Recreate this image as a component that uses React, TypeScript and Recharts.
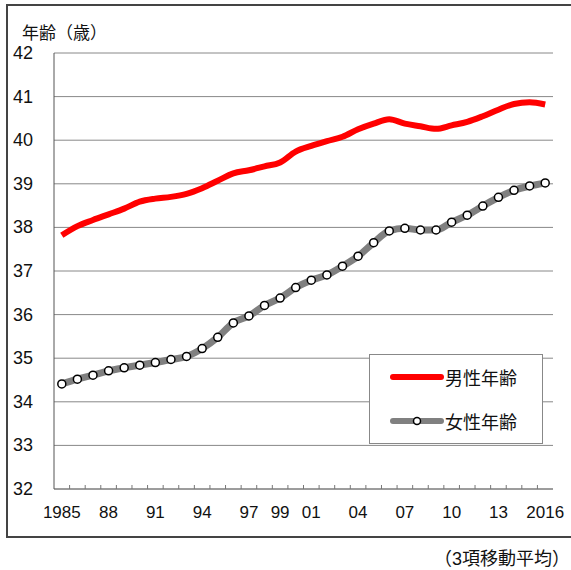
import React from "react";
import { CartesianGrid, Legend, Line, LineChart, XAxis, YAxis } from "recharts";

// 1985-2016, 3-year moving average of age (male / female)
const years = [
  "1985", "1986", "1987", "1988", "1989", "1990", "1991", "1992", "1993", "1994", "1995",
  "1996", "1997", "1998", "1999", "2000", "2001", "2002", "2003", "2004", "2005", "2006",
  "2007", "2008", "2009", "2010", "2011", "2012", "2013", "2014", "2015", "2016"
];
const maleAge = [
  37.82, 38.03, 38.17, 38.3, 38.43, 38.59, 38.66, 38.7, 38.77, 38.9, 39.07,
  39.24, 39.31, 39.4, 39.49, 39.74, 39.87, 39.98, 40.08, 40.25, 40.38, 40.48,
  40.38, 40.32, 40.26, 40.34, 40.42, 40.55, 40.7, 40.83, 40.87, 40.82
];
const femaleAge = [
  34.41, 34.52, 34.61, 34.71, 34.78, 34.84, 34.9, 34.97, 35.04, 35.22, 35.48,
  35.81, 35.97, 36.21, 36.38, 36.62, 36.79, 36.91, 37.11, 37.34, 37.65, 37.92,
  37.98, 37.94, 37.94, 38.12, 38.28, 38.49, 38.69, 38.85, 38.95, 39.02
];
const labeledYears = ["1985", "1988", "1991", "1994", "1997", "1999", "2001", "2004", "2007", "2010", "2013", "2016"];
const yearLabels = ["1985", "88", "91", "94", "97", "99", "01", "04", "07", "10", "13", "2016"];
const yTicks = [32, 33, 34, 35, 36, 37, 38, 39, 40, 41, 42];
const seriesOrder = ["male", "female"];

const data = years.map((year, i) => ({ year, male: maleAge[i], female: femaleAge[i] }));

const W = 571;
const H = 540;
const PLOT_LEFT = 54;
const PLOT_RIGHT = 553;
const PLOT_TOP = 53;
const PLOT_BOTTOM = 489;
const BAND = (PLOT_RIGHT - PLOT_LEFT) / years.length;
const FONT = "'Liberation Sans', Arial, 'Noto Sans CJK JP', sans-serif";

function YearTick(props: any) {
  const { x, payload, index } = props;
  const idx = labeledYears.indexOf(payload.value);
  const isLast = index === years.length - 1;
  return (
    <g>
      {!isLast && (
        <line x1={x + BAND / 2} x2={x + BAND / 2} y1={PLOT_BOTTOM} y2={PLOT_BOTTOM - 4} stroke="#777" strokeWidth={1} />
      )}
      {idx >= 0 && (
        <text x={x} y={PLOT_BOTTOM + 29} textAnchor="middle" fontSize={17} fill="#111" fontFamily={FONT}>
          {yearLabels[idx]}
        </text>
      )}
    </g>
  );
}

function AgeTick(props: any) {
  const { y, payload } = props;
  return (
    <text x={33} y={y + 6} textAnchor="end" fontSize={18} fill="#111" fontFamily={FONT}>
      {payload.value}
    </text>
  );
}

function LegendBox(props: any) {
  const items = [...(props.payload || [])].sort(
    (a: any, b: any) => seriesOrder.indexOf(a.dataKey) - seriesOrder.indexOf(b.dataKey)
  );
  return (
    <div
      style={{
        width: 174,
        height: 90,
        border: "1px solid #888",
        background: "#fff",
        boxSizing: "border-box",
        position: "relative"
      }}
    >
      {items.map((item: any, i: number) => {
        const isFemale = item.dataKey === "female";
        return (
          <div
            key={item.value}
            style={{ position: "absolute", left: 20, top: 11 + i * 44, height: 22, display: "flex", alignItems: "center" }}
          >
            <svg width={54} height={14}>
              <line x1={3} x2={51} y1={7} y2={7} stroke={item.color} strokeWidth={6} strokeLinecap="round" />
              {isFemale && <circle cx={27} cy={7} r={3.5} fill="#fff" stroke="#000" strokeWidth={1.5} />}
            </svg>
            <span style={{ fontSize: 18, color: "#111", fontFamily: FONT, marginLeft: 1 }}>{item.value}</span>
          </div>
        );
      })}
    </div>
  );
}

export default function App() {
  return (
    <div style={{ position: "absolute", left: 0, top: 0, width: W, height: 570, overflow: "hidden", background: "#fff", fontFamily: FONT }}>
      <div
        style={{
          position: "absolute",
          left: 6,
          top: 4,
          width: 620,
          height: 534,
          border: "2px solid #444",
          boxSizing: "border-box"
        }}
      />
      <div style={{ position: "absolute", left: 22, top: 19, fontSize: 17, color: "#111", fontFamily: FONT }}>
        年齢（歳）
      </div>
      <div style={{ position: "absolute", left: 0, top: 0 }}>
        <LineChart
          width={W}
          height={H}
          data={data}
          margin={{ top: PLOT_TOP, right: W - PLOT_RIGHT, bottom: 0, left: 0 }}
        >
          <CartesianGrid yAxisId="left" vertical={false} stroke="#888" strokeWidth={1} />
          <XAxis
            dataKey="year"
            interval={0}
            height={H - PLOT_BOTTOM}
            padding={{ left: BAND / 2, right: BAND / 2 }}
            axisLine={{ stroke: "#777", strokeWidth: 1 }}
            tickLine={false}
            tick={<YearTick />}
          />
          <YAxis
            yAxisId="left"
            width={PLOT_LEFT}
            domain={[32, 42]}
            ticks={yTicks}
            interval={0}
            axisLine={{ stroke: "#555", strokeWidth: 1 }}
            tickLine={false}
            tick={<AgeTick />}
          />
          <YAxis
            yAxisId="right"
            orientation="right"
            width={0}
            domain={[32, 42]}
            tick={false}
            tickLine={false}
            axisLine={{ stroke: "#777", strokeWidth: 1 }}
          />
          <Legend
            layout="horizontal"
            verticalAlign="middle"
            align="center"
            wrapperStyle={{ left: 369, top: 354, width: 174, height: 90 }}
            content={<LegendBox />}
          />
          <Line
            yAxisId="left"
            type="monotone"
            dataKey="male"
            name="男性年齢"
            stroke="#ff0000"
            strokeWidth={6}
            dot={false}
            isAnimationActive={false}
          />
          <Line
            yAxisId="left"
            type="monotone"
            dataKey="female"
            name="女性年齢"
            stroke="#808080"
            strokeWidth={7}
            dot={{ r: 4, fill: "#fff", stroke: "#000", strokeWidth: 1.5 }}
            isAnimationActive={false}
          />
        </LineChart>
      </div>
      <div style={{ position: "absolute", left: 434, top: 544, fontSize: 18, color: "#111", fontFamily: FONT, whiteSpace: "nowrap" }}>
        （3項移動平均）
      </div>
    </div>
  );
}
